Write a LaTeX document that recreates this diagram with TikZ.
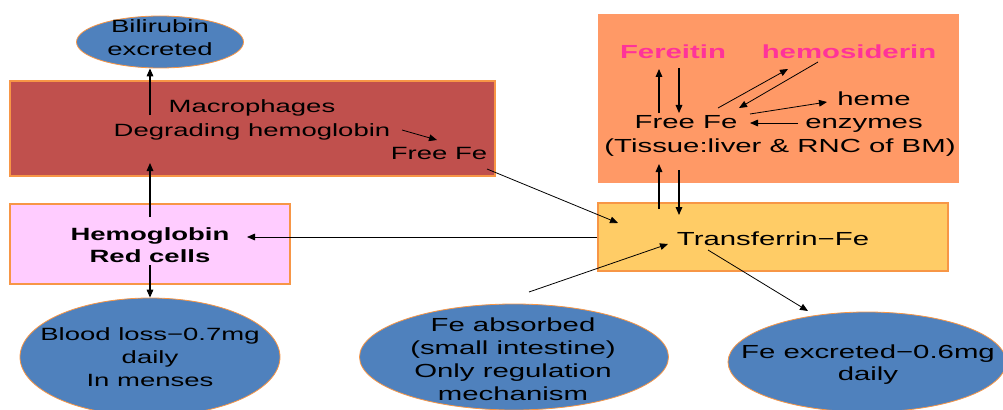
\documentclass[tikz,border=0pt]{standalone}
\usepackage{fontspec}
\setmainfont{Liberation Sans}
\newfontfamily\wf[FakeStretch=1.55]{Liberation Sans}
\usetikzlibrary{arrows.meta,shapes.geometric}
\definecolor{blu}{HTML}{4F81BD}
\definecolor{obrd}{HTML}{F79646}
\definecolor{macc}{HTML}{C0504D}
\definecolor{pnk}{HTML}{FFCCFF}
\definecolor{feb}{HTML}{FF9966}
\definecolor{tfc}{HTML}{FFCC66}
\definecolor{ptx}{HTML}{FF3399}
\begin{document}
\begin{tikzpicture}[x=0.75pt,y=-0.75pt,
  txt/.style={font=\wf\fontsize{13.3}{17.3}\selectfont,inner sep=0pt,anchor=base},
  txtl/.style={font=\wf\fontsize{14.2}{17.3}\selectfont,inner sep=0pt,anchor=base},
  oval/.style={ellipse,draw=obrd,line width=0.6pt,fill=blu,inner sep=0pt},
  box/.style={rectangle,draw=obrd,line width=0.8pt,inner sep=0pt},
  arr/.style={-{Triangle[length=6pt,width=5pt]},line width=0.8pt},
]
\useasboundingbox (0,0) rectangle (1003,410);

% shapes
\node[oval,minimum width=125.25pt,minimum height=39pt] (bil) at (160,42) {};
\node[box,fill=macc,minimum width=363.75pt,minimum height=71.25pt] (mac) at (252.5,128.5) {};
\node[rectangle,fill=feb,inner sep=0pt,minimum width=270.75pt,minimum height=126.75pt] (feb) at (778.5,98.5) {};
\node[box,fill=pnk,minimum width=210pt,minimum height=60pt] (hb) at (150,244) {};
\node[box,fill=tfc,minimum width=262.5pt,minimum height=51pt] (tf) at (773,237) {};
\node[oval,minimum width=195pt,minimum height=88.5pt] (blood) at (150,357) {};
\node[oval,minimum width=231.75pt,minimum height=79.5pt] (abs) at (514,357) {};
\node[oval,minimum width=208.5pt,minimum height=75pt] (exc) at (867,362) {};

% texts
\node[txt] (bil1) at (160,33) {Bilirubin};
\node[txt] (bil2) at (160,56) {excreted};
\node[txt] (mac1) at (252,113) {Macrophages};
\node[txt] (mac2) at (252,136) {Degrading hemoglobin};
\node[txt] (ffa) at (439,159) {Free Fe};
\node[txt,font=\wf\bfseries\fontsize{13.3}{17.3}\selectfont] (hb1) at (150,240) {Hemoglobin};
\node[txt,font=\wf\bfseries\fontsize{13.3}{17.3}\selectfont] (hb2) at (150,262) {Red cells};
\node[txtl] (tft) at (773,245) {Transferrin−Fe};
\node[txtl,font=\wf\bfseries\fontsize{14.2}{17.3}\selectfont,text=ptx] (fer) at (673,59) {Fereitin};
\node[txtl,font=\wf\bfseries\fontsize{14.2}{17.3}\selectfont,text=ptx] (hsd) at (849,59) {hemosiderin};
\node[txtl] (heme) at (874,106) {heme};
\node[txtl] (ffb) at (686,128) {Free Fe};
\node[txtl] (enz) at (864,128) {enzymes};
\node[txtl] (tis) at (780,152) {(Tissue:liver \& RNC of BM)};
\node[txt] (bl1) at (150,340) {Blood loss−0.7mg};
\node[txt] (bl2) at (150,363) {daily};
\node[txt] (bl3) at (150,386) {In menses};
\node[txtl] (ab1) at (513,331) {Fe absorbed};
\node[txtl] (ab2) at (513,354) {(small intestine)};
\node[txtl] (ab3) at (513,377) {Only regulation};
\node[txtl] (ab4) at (513,400) {mechanism};
\node[txtl] (ex1) at (868,358) {Fe excreted−0.6mg};
\node[txtl] (ex2) at (868,380) {daily};

% connector end points
\coordinate (c1) at (150,115);
\coordinate (c2) at (150,217);
\coordinate (c3) at (150,163);
\coordinate (c4) at (150,265);
\coordinate (c5) at (247,237);
\coordinate (c6) at (402,130);
\coordinate (c7) at (437,140);
\coordinate (c8) at (487,169);
\coordinate (c9) at (618,223);
\coordinate (c10) at (529,292);
\coordinate (c11) at (668,244);
\coordinate (c12) at (708,250);
\coordinate (c13) at (808,311);
\coordinate (f1) at (659,113);
\coordinate (f2) at (659,69);
\coordinate (f3) at (679,68);
\coordinate (f4) at (679,113);
\coordinate (f5) at (718,108);
\coordinate (f6) at (788,69);
\coordinate (f7) at (818,62);
\coordinate (f8) at (739,108);
\coordinate (f9) at (750,114);
\coordinate (f10) at (827,102);
\coordinate (f11) at (798,123);
\coordinate (f12) at (750,123);
\coordinate (f13) at (659,209);
\coordinate (f14) at (659,164);
\coordinate (f15) at (679,170);
\coordinate (f16) at (679,215);

% connectors
\draw[arr] (c1) -- (c1 |- bil.south);
\draw[arr] (c2) -- (c3);
\draw[arr] (c4) -- (blood.north);
\draw[arr,line width=0.6pt] (tf.west) -- (c5);
\draw[arr,line width=0.6pt] (c6) -- (c7);
\draw[arr,line width=0.6pt] (c8) -- (c9);
\draw[arr,line width=0.6pt] (c10) -- (c11);
\draw[arr,line width=0.6pt] (c12) -- (c13);
\draw[arr] (f1) -- (f2);
\draw[arr] (f3) -- (f4);
\draw[arr,line width=0.6pt] (f5) -- (f6);
\draw[arr,line width=0.6pt] (f7) -- (f8);
\draw[arr,line width=0.6pt] (f9) -- (f10);
\draw[arr,line width=0.6pt] (f11) -- (f12);
\draw[arr] (f13) -- (f14);
\draw[arr] (f15) -- (f16);
\end{tikzpicture}
\end{document}
